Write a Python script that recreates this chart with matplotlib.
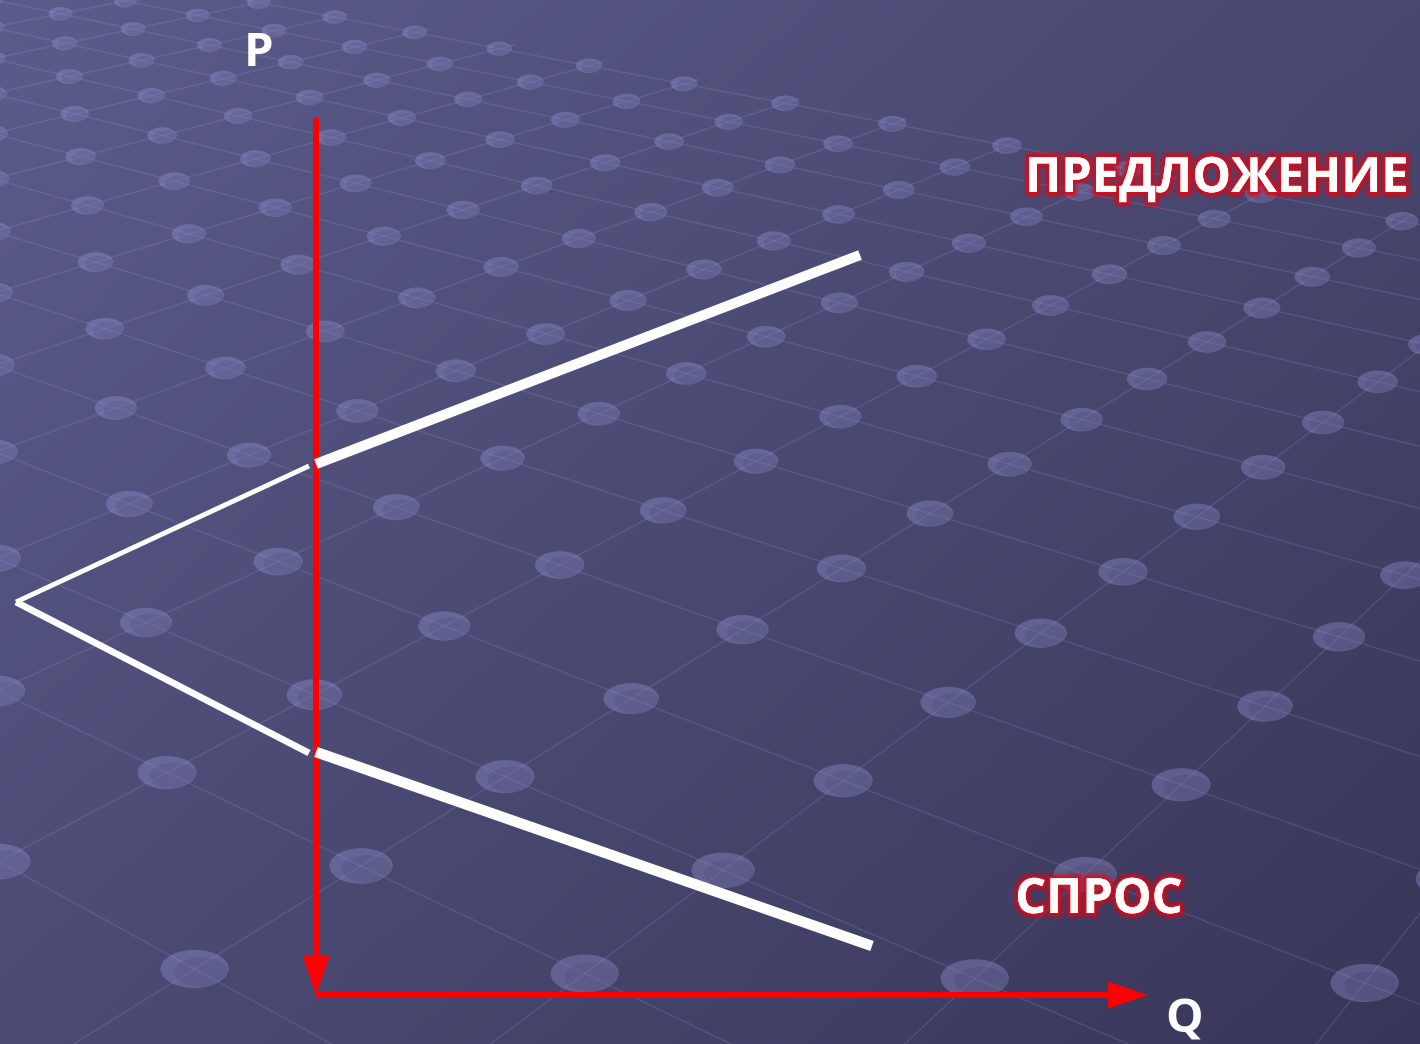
import numpy as np
import matplotlib
matplotlib.use("Agg")
import matplotlib.pyplot as plt
from matplotlib.patches import Ellipse
from matplotlib.collections import PatchCollection, LineCollection
import matplotlib.patheffects as pe

# --- diagram data (Q along x, P along y; origin where the axes meet) ---
p_axis_top = 87.7
q_axis_end = 83.2

supply_left_q = [-30.0, -0.7]
supply_left_p = [39.3, 52.9]
supply_right_q = [0.0, 54.4]
supply_right_p = [53.1, 74.0]

demand_left_q = [-30.0, -0.7]
demand_left_p = [39.3, 24.2]
demand_right_q = [0.0, 55.6]
demand_right_p = [24.3, 4.9]

labels = ["P", "Q", "ПРЕДЛОЖЕНИЕ", "СПРОС"]
label_q = [-5.7, 86.8, 90.1, 78.3]
label_p = [92.9, -3.7, 80.3, 8.2]

W, H = 1420, 1044
fig = plt.figure(figsize=(W / 100, H / 100), dpi=100)

# --- slide background: gradient + perspective dotted grid ---
bg = fig.add_axes([0, 0, 1, 1])
bg.set_xlim(0, W)
bg.set_ylim(H, 0)
bg.axis("off")
yy, xx = np.mgrid[0:H, 0:W]
t = (xx / W * 0.55 + yy / H * 0.45)[..., None]
c0 = np.array([92, 92, 140]) / 255
c1 = np.array([56, 54, 88]) / 255
bg.imshow(c0 + (c1 - c0) * t, extent=(0, W, H, 0), aspect="auto", zorder=0)

XC, D, YH, C, TILT = -12.0, 5070.0, -495.0, 19110.0, 0.012
EDGE = 21.3


def to_px(X, Z):
    x = XC + D * X / Z
    y = YH + C / Z + TILT * (x - 700)
    return x, y


segs = []
for n in range(-40, 40):
    c = n + 0.03
    # lines X - Z/2 = c, they stop at the far edge of the plane
    z_end = min(45.0, EDGE - c)
    if z_end > 9:
        segs.append([to_px(c + 0.5 * 9, 9), to_px(c + 0.5 * z_end, z_end)])
    # lines X + Z/2 = c
    if c <= EDGE:
        segs.append([to_px(c - 0.5 * 9, 9), to_px(c - 0.5 * 45, 45)])
bg.add_collection(LineCollection(segs, colors=[(0.62, 0.62, 0.85, 0.2)],
                                 linewidths=1.0, zorder=1))

dots, shades = [], []
for k in range(-3, 30):
    Z = 13.0 + k
    off = 0.03 + 0.5 * ((k + 1) % 2)
    for m in range(-10, 40):
        X = off + m
        if X + 0.5 * Z > EDGE + 0.05:
            continue
        x, y = to_px(X, Z)
        if -80 < x < W + 80 and -40 < y < H + 60:
            w = 0.175 * D / Z
            dots.append(Ellipse((x, y), w, w * 0.56))
            shades.append(Ellipse((x + w * 0.1, y + w * 0.05), w * 0.8, w * 0.44))
bg.add_collection(PatchCollection(dots, facecolor=(0.6, 0.6, 0.86, 0.36),
                                  edgecolor="none", zorder=2))
bg.add_collection(PatchCollection(shades, facecolor=(0.12, 0.12, 0.22, 0.1),
                                  edgecolor="none", zorder=3))

# --- the diagram itself ---
ax = fig.add_axes([0, 0, 1, 1])
ax.set_facecolor("none")
ax.set_xlim(-31.6, 110.4)
ax.set_ylim(-4.9, 99.5)
ax.axis("off")

red = "#ff0000"
ax.arrow(0, p_axis_top, 0, -p_axis_top, width=0.6, head_width=2.7,
         head_length=3.9, length_includes_head=True, color=red, lw=0, zorder=5)
ax.arrow(0, 0, q_axis_end, 0, width=0.6, head_width=2.7,
         head_length=4.0, length_includes_head=True, color=red, lw=0, zorder=5)

ax.plot(supply_left_q, supply_left_p, color="white", lw=3.5,
        solid_capstyle="butt", zorder=4)
ax.plot(supply_right_q, supply_right_p, color="white", lw=7.3,
        solid_capstyle="butt", zorder=6)
ax.plot(demand_left_q, demand_left_p, color="white", lw=4.8,
        solid_capstyle="butt", zorder=4)
ax.plot(demand_right_q, demand_right_p, color="white", lw=7.6,
        solid_capstyle="butt", zorder=6)

glow = [pe.withStroke(linewidth=10, foreground=(0.9, 0.0, 0.05, 0.12)),
        pe.withStroke(linewidth=7, foreground=(0.9, 0.0, 0.05, 0.25)),
        pe.withStroke(linewidth=4.5, foreground=(0.88, 0.02, 0.08, 0.55)),
        pe.withStroke(linewidth=2, foreground=(0.85, 0.05, 0.1, 0.8)),
        pe.Normal()]
sizes = [34, 34, 35, 35]
for txt, q, p, fs in zip(labels, label_q, label_p, sizes):
    effects = glow if len(txt) > 1 else None
    ax.text(q, p, txt, color="white", fontsize=fs, fontweight="bold",
            family=["Open Sans", "DejaVu Sans"], ha="center", va="baseline",
            path_effects=effects, zorder=7)

fig.savefig("out.png", dpi=100)
